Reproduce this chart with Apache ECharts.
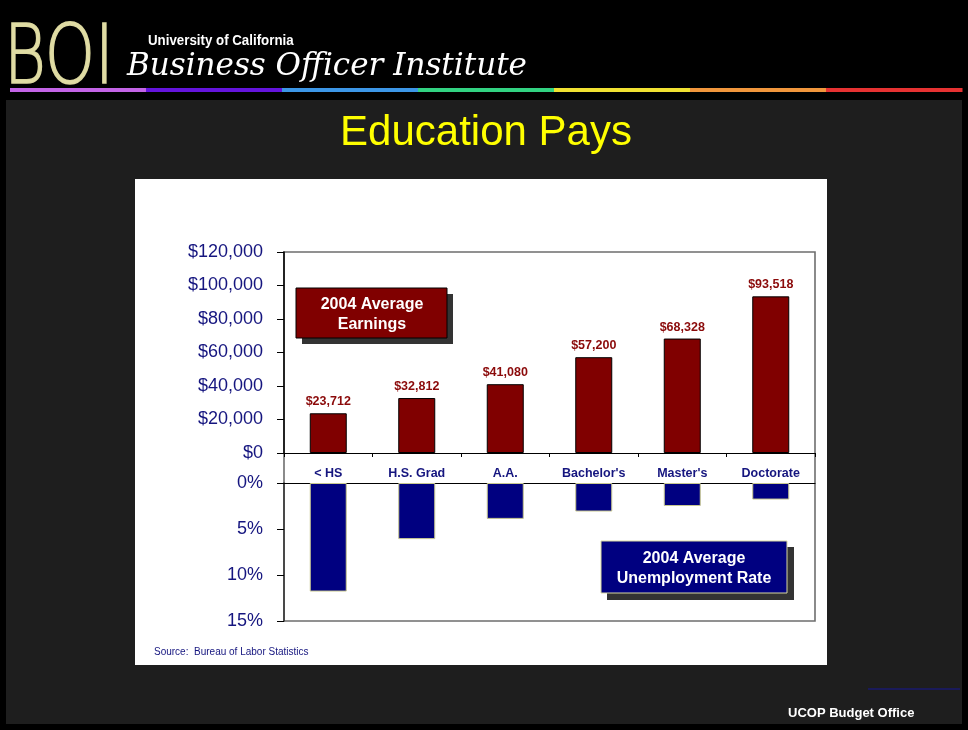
<!DOCTYPE html>
<html>
<head>
<meta charset="utf-8">
<script src="https://cdn.jsdelivr.net/npm/echarts@6/dist/echarts.min.js"></script>
<style>
html,body{margin:0;padding:0;background:#000;}
#chart{width:968px;height:730px;}
</style>
</head>
<body>
<div id="chart"></div>
<script>
// ---- data ----
const categories = ['< HS', 'H.S. Grad', 'A.A.', "Bachelor's", "Master's", 'Doctorate'];
const earnings = [23712, 32812, 41080, 57200, 68328, 93518];
const unemployment = [11.8, 6.1, 3.9, 3.1, 2.5, 1.8];
const earningsAxis = { min: 0, max: 120000, interval: 20000 };
const unemploymentAxis = { min: 0, max: 15, interval: 5 };
const titleText = 'Education Pays';
const earningsBoxText = '2004 Average\nEarnings';
const unempBoxText = '2004 Average\nUnemployment Rate';
const sourceText = 'Source:  Bureau of Labor Statistics';
const footerText = 'UCOP Budget Office';
const rainbow = ['#c364e6', '#6414dc', '#3c96e6', '#32d282', '#f0e132', '#f0963c', '#e63232'];

const NAVY = '#15157f';
const chart = echarts.init(document.getElementById('chart'), null, { renderer: 'canvas' });

const graphics = [
  // slide body
  { type: 'rect', z: -20, shape: { x: 6, y: 100, width: 956, height: 624 }, style: { fill: '#1e1e1e' } },
  // white panel
  { type: 'rect', z: -10, shape: { x: 135, y: 179, width: 692, height: 486 }, style: { fill: '#ffffff' } },
  // plot frame
  { type: 'rect', z: -5, shape: { x: 284, y: 252, width: 531, height: 369 }, style: { fill: null, stroke: '#6e6e6e', lineWidth: 1.6 } },
  // header
  { type: 'text', z: 5, x: 4, y: 21, scaleX: 0.78, style: { text: 'BOI', font: '200 82px "DejaVu Sans"', fill: '#e0dca4', stroke: '#d8d49c', lineWidth: 1.6 } },
  { type: 'text', z: 5, x: 148, y: 34, scaleX: 0.95, style: { text: 'University of California', font: 'bold 14px "Liberation Sans", Arial', fill: '#ffffff' } },
  { type: 'text', z: 5, x: 127, y: 51, style: { text: 'Business Officer Institute', font: 'italic 31px "DejaVu Serif"', fill: '#ffffff' } },
  // title
  { type: 'text', z: 5, x: 486, y: 133, style: { text: titleText, font: '42px "Liberation Sans", Arial', fill: '#ffff00', align: 'center', verticalAlign: 'middle' } },
  // earnings box
  { type: 'rect', z: 5, shape: { x: 302, y: 294, width: 151, height: 50 }, style: { fill: '#333333' } },
  { type: 'rect', z: 6, shape: { x: 296, y: 288, width: 151, height: 50 }, style: { fill: '#800000', stroke: '#000', lineWidth: 1 } },
  { type: 'text', z: 7, x: 372, y: 315, style: { text: earningsBoxText, font: 'bold 16px "Liberation Sans", Arial', fill: '#fff', align: 'center', verticalAlign: 'middle', lineHeight: 20 } },
  // unemployment box
  { type: 'rect', z: 5, shape: { x: 607, y: 547, width: 187, height: 53 }, style: { fill: '#333333' } },
  { type: 'rect', z: 6, shape: { x: 601, y: 541, width: 186, height: 52 }, style: { fill: '#000080', stroke: '#d8d8a0', lineWidth: 1 } },
  { type: 'text', z: 7, x: 694, y: 569, style: { text: unempBoxText, font: 'bold 16px "Liberation Sans", Arial', fill: '#fff', align: 'center', verticalAlign: 'middle', lineHeight: 20 } },
  // source
  { type: 'text', z: 5, x: 154, y: 652, style: { text: sourceText, font: '10px "Liberation Sans", Arial', fill: NAVY, verticalAlign: 'middle' } },
  // footer
  { type: 'line', z: 5, shape: { x1: 868, y1: 689, x2: 960, y2: 689 }, style: { stroke: '#1a1a6e', lineWidth: 1.5 } },
  { type: 'text', z: 5, x: 788, y: 713, style: { text: footerText, font: 'bold 13px "Liberation Sans", Arial', fill: '#fff', verticalAlign: 'middle' } }
];
// rainbow bar
const segW = (962 - 10) / rainbow.length;
rainbow.forEach((c, i) => {
  graphics.push({ type: 'rect', z: 4, shape: { x: 10 + i * segW, y: 88, width: segW + 0.5, height: 4 }, style: { fill: c } });
});

const option = {
  backgroundColor: '#000000',
  animation: false,
  graphic: { elements: graphics },
  grid: [
    { left: 284, top: 252, width: 531, height: 201 },
    { left: 284, top: 483, width: 531, height: 138 }
  ],
  xAxis: [
    {
      type: 'category', gridIndex: 0, data: categories,
      axisLine: { lineStyle: { color: '#000', width: 1.2 } },
      axisTick: { show: true, length: 4, lineStyle: { color: '#000' } },
      axisLabel: { color: NAVY, fontWeight: 'bold', fontSize: 12.5, fontFamily: '"Liberation Sans", Arial', margin: 14 }
    },
    {
      type: 'category', gridIndex: 1, data: categories, position: 'top',
      axisLine: { lineStyle: { color: '#000', width: 1.2 } },
      axisTick: { show: false },
      axisLabel: { show: false }
    }
  ],
  yAxis: [
    {
      type: 'value', gridIndex: 0, min: earningsAxis.min, max: earningsAxis.max, interval: earningsAxis.interval,
      axisLine: { show: true, lineStyle: { color: '#000', width: 1.5 } },
      axisTick: { show: true, length: 7, lineStyle: { color: '#000' } },
      splitLine: { show: false },
      axisLabel: { color: NAVY, fontSize: 18, fontFamily: '"Liberation Sans", Arial', margin: 21,
        formatter: v => '$' + v.toLocaleString('en-US') }
    },
    {
      type: 'value', gridIndex: 1, inverse: true, min: unemploymentAxis.min, max: unemploymentAxis.max, interval: unemploymentAxis.interval,
      axisLine: { show: true, lineStyle: { color: '#333', width: 1.5 } },
      axisTick: { show: true, length: 7, lineStyle: { color: '#000' } },
      splitLine: { show: false },
      axisLabel: { color: NAVY, fontSize: 18, fontFamily: '"Liberation Sans", Arial', margin: 21,
        formatter: v => v + '%' }
    }
  ],
  series: [
    {
      type: 'bar', xAxisIndex: 0, yAxisIndex: 0, data: earnings, barWidth: 37,
      itemStyle: { color: '#800000', borderColor: '#000', borderWidth: 1 },
      label: { show: true, position: 'top', distance: 5, color: '#8b0a0a', fontWeight: 'bold', fontSize: 12.5,
        fontFamily: '"Liberation Sans", Arial', formatter: p => '$' + p.value.toLocaleString('en-US') }
    },
    {
      type: 'bar', xAxisIndex: 1, yAxisIndex: 1, data: unemployment, barWidth: 37,
      itemStyle: { color: '#000080', borderColor: '#c8c890', borderWidth: 1 }
    }
  ]
};
chart.setOption(option);
</script>
</body>
</html>
